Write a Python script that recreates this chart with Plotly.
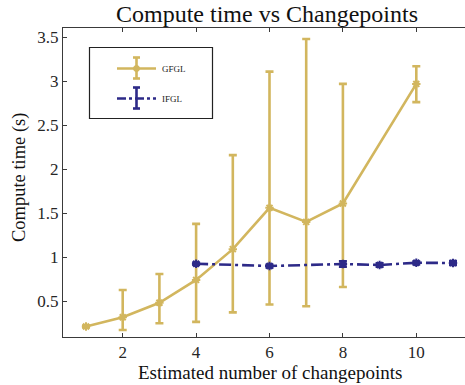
import plotly.graph_objects as go

# GFGL: mean compute time with asymmetric spread
gfgl_x = [1, 2, 3, 4, 5, 6, 7, 8, 10]
gfgl_y = [0.21, 0.315, 0.48, 0.74, 1.09, 1.56, 1.40, 1.61, 2.97]
gfgl_up = [0.01, 0.31, 0.327, 0.637, 1.07, 1.55, 2.08, 1.36, 0.20]
gfgl_dn = [0.01, 0.145, 0.234, 0.478, 0.72, 1.10, 0.96, 0.95, 0.207]

# IFGL: mean compute time with small spread
ifgl_x = [4, 6, 8, 9, 10, 11]
ifgl_y = [0.924, 0.898, 0.921, 0.91, 0.935, 0.932]
ifgl_err = [0.012, 0.015, 0.03, 0.02, 0.015, 0.022]

x_ticks = [2, 4, 6, 8, 10]
y_ticks = [0.5, 1, 1.5, 2, 2.5, 3, 3.5]

GOLD = "#D2B65E"
NAVY = "#2D2A88"
SERIF = "Liberation Serif"
AXIS = "#3a3a3a"

fig = go.Figure()

fig.add_trace(go.Scatter(
    x=gfgl_x, y=gfgl_y, mode="lines+markers", name="GFGL",
    line=dict(color=GOLD, width=2.6),
    marker=dict(symbol="asterisk-open", size=7, color=GOLD, line=dict(color=GOLD, width=2)),
    error_y=dict(type="data", symmetric=False, array=gfgl_up, arrayminus=gfgl_dn,
                 color=GOLD, thickness=2.6, width=4),
))

fig.add_trace(go.Scatter(
    x=ifgl_x, y=ifgl_y, mode="lines+markers", name="IFGL",
    line=dict(color=NAVY, width=2.6, dash="12px,4px,3px,4px"),
    marker=dict(symbol="asterisk-open", size=7, color=NAVY, line=dict(color=NAVY, width=2)),
    error_y=dict(type="data", array=ifgl_err, color=NAVY, thickness=2.6, width=4),
))

# Legend box drawn in paper coordinates
L, R, T, B = 63, 465, 28, 337
W, H = R - L, B - T
px = lambda v: (v - L) / W
py = lambda v: 1 - (v - T) / H

shapes = [
    dict(type="rect", xref="paper", yref="paper", x0=px(89.5), x1=px(212.5),
         y0=py(118.5), y1=py(47.5), line=dict(color="#222", width=1.2), fillcolor="white"),
    # GFGL sample
    dict(type="line", xref="paper", yref="paper", x0=px(117), x1=px(156), y0=py(68.5), y1=py(68.5),
         line=dict(color=GOLD, width=2.6)),
    dict(type="line", xref="paper", yref="paper", x0=px(136.5), x1=px(136.5), y0=py(57.5), y1=py(78.5),
         line=dict(color=GOLD, width=2.6)),
    dict(type="line", xref="paper", yref="paper", x0=px(133), x1=px(140), y0=py(57.5), y1=py(57.5),
         line=dict(color=GOLD, width=2.6)),
    dict(type="line", xref="paper", yref="paper", x0=px(133), x1=px(140), y0=py(78.5), y1=py(78.5),
         line=dict(color=GOLD, width=2.6)),
    dict(type="circle", xref="paper", yref="paper", x0=px(133.5), x1=px(139.5), y0=py(71.5), y1=py(65.5),
         line=dict(color=GOLD, width=1), fillcolor=GOLD),
    # IFGL sample
    dict(type="line", xref="paper", yref="paper", x0=px(117), x1=px(156), y0=py(98.5), y1=py(98.5),
         line=dict(color=NAVY, width=2.6, dash="dashdot")),
    dict(type="line", xref="paper", yref="paper", x0=px(136.5), x1=px(136.5), y0=py(87.5), y1=py(108.5),
         line=dict(color=NAVY, width=2.6)),
    dict(type="line", xref="paper", yref="paper", x0=px(133), x1=px(140), y0=py(87.5), y1=py(87.5),
         line=dict(color=NAVY, width=2.6)),
    dict(type="line", xref="paper", yref="paper", x0=px(133), x1=px(140), y0=py(108.5), y1=py(108.5),
         line=dict(color=NAVY, width=2.6)),
]

annotations = [
    dict(text="GFGL", xref="paper", yref="paper", x=px(160), y=py(69), xanchor="left",
         yanchor="middle", showarrow=False, font=dict(family=SERIF, size=9, color="#222")),
    dict(text="IFGL", xref="paper", yref="paper", x=px(160), y=py(99), xanchor="left",
         yanchor="middle", showarrow=False, font=dict(family=SERIF, size=9, color="#222")),
    dict(text="Compute time vs Changepoints", xref="paper", yref="paper", x=px(267), y=py(14),
         xanchor="center", yanchor="middle", showarrow=False,
         font=dict(family=SERIF, size=24, color="#111")),
    dict(text="Estimated number of changepoints", xref="paper", yref="paper", x=px(270), y=py(372),
         xanchor="center", yanchor="middle", showarrow=False,
         font=dict(family=SERIF, size=19, color="#111")),
    dict(text="Compute time (s)", xref="paper", yref="paper", x=px(19), y=py(178),
         xanchor="center", yanchor="middle", showarrow=False, textangle=-90,
         font=dict(family=SERIF, size=18.5, color="#111")),
]

fig.update_layout(
    width=465, height=385,
    margin=dict(l=L, r=0, t=T, b=385 - B, pad=0),
    paper_bgcolor="white", plot_bgcolor="white",
    showlegend=False,
    shapes=shapes, annotations=annotations,
    font=dict(family=SERIF, size=17, color="#262626"),
)

fig.update_xaxes(
    range=[0.373, 11.327], tickvals=x_ticks, ticks="inside", ticklen=4, tickcolor=AXIS,
    showline=True, linecolor=AXIS, linewidth=1, mirror="ticks", showgrid=False, zeroline=False,
    tickfont=dict(family=SERIF, size=17, color="#262626"),
)
fig.update_yaxes(
    range=[0.0904, 3.606], tickvals=y_ticks, ticktext=["0.5", "1", "1.5", "2", "2.5", "3", "3.5"],
    ticks="inside", ticklen=4, tickcolor=AXIS,
    showline=True, linecolor=AXIS, linewidth=1, mirror=False, showgrid=False, zeroline=False,
    tickfont=dict(family=SERIF, size=17, color="#262626"),
)

fig.write_html("out.html")
